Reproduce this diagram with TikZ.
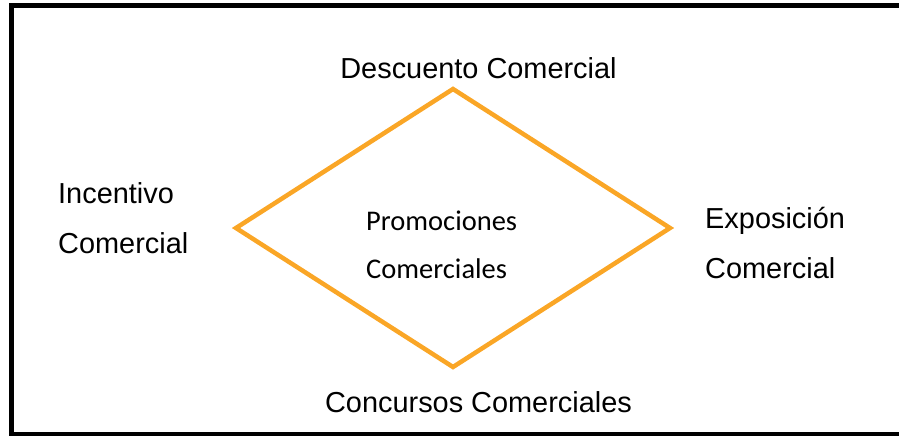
\documentclass[tikz,border=0pt]{standalone}
\usepackage{fontspec}
\setmainfont{Liberation Sans}
\newfontfamily\calibri{Carlito}
\definecolor{naranja}{RGB}{250,166,38}
\begin{document}
\begin{tikzpicture}[x=1pt,y=-1pt,
	etiq/.style={inner sep=0,font=\fontsize{28.9}{49.5}\selectfont,align=left},
	centro/.style={inner sep=0,font=\calibri\fontsize{28.5}{48}\selectfont,align=left},
	rombo/.style={draw=naranja,line width=4.5pt,line join=miter}]
	\useasboundingbox (0,0) rectangle (899,436);
	\draw[line width=5pt] (11.5,5.8) rectangle (910,434.5);

	% rombo
	\coordinate (arriba) at (453,89);
	\coordinate (izq) at (236,228);
	\coordinate (abajo) at (453,367);
	\coordinate (der) at (670,228);
	\draw[rombo] (arriba) -- (der) -- (abajo) -- (izq) -- cycle;

	\node[centro,anchor=base west] (promo) at (366,278) {Promociones\\Comerciales};

	\node[etiq,anchor=base] (descuento) at (478.5,78) {Descuento Comercial};
	\node[etiq,anchor=base] (concursos) at (478.5,412) {Concursos Comerciales};
	\node[etiq,anchor=base west] (incentivo) at (58,253) {Incentivo\\Comercial};
	\node[etiq,anchor=base west] (exposicion) at (705,278) {Exposición\\Comercial};
\end{tikzpicture}
\end{document}
